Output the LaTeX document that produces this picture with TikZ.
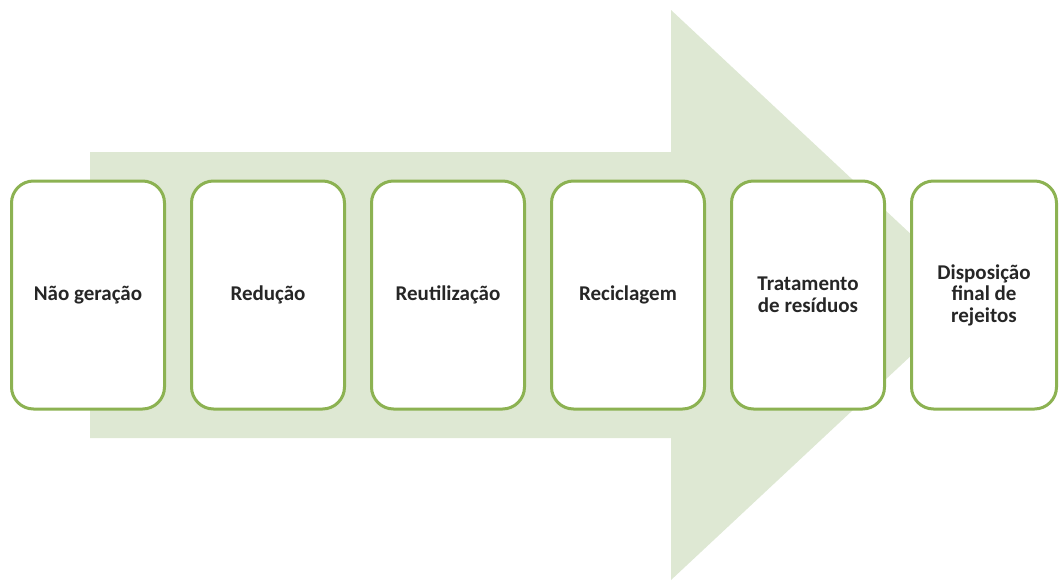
\documentclass[tikz,border=0pt]{standalone}
\usepackage{fontspec}
\setmainfont{Carlito}
\usepackage{tikz}
\usetikzlibrary{positioning}
\definecolor{arrowgreen}{RGB}{222,232,211}
\definecolor{boxgreen}{RGB}{140,178,82}
\definecolor{textgray}{RGB}{38,38,38}

\begin{document}
\begin{tikzpicture}[x=1pt, y=-1pt,
    stage/.style={draw=boxgreen, line width=3pt, fill=white, rounded corners=22pt,
      minimum width=153pt, minimum height=228pt, align=center,
      text=textgray, font=\fontsize{21}{21.5}\selectfont\bfseries}]
    \useasboundingbox (0,0) rectangle (1059,581);
    \fill[arrowgreen] (90,152) -- (671,152) -- (671,10) -- (976,295)
      -- (671,580) -- (671,438) -- (90,438) -- cycle;
    \node[stage] (s1) at (88,295) {Não geração};
    \node[stage, right=24pt of s1] (s2) {Redução};
    \node[stage, right=24pt of s2] (s3) {Reutilização};
    \node[stage, right=24pt of s3] (s4) {Reciclagem};
    \node[stage, right=24pt of s4] (s5) {Tratamento\\de resíduos};
    \node[stage, right=24pt of s5, minimum width=145pt] (s6) {Disposição\\final de\\rejeitos};
  \end{tikzpicture}
\end{document}
